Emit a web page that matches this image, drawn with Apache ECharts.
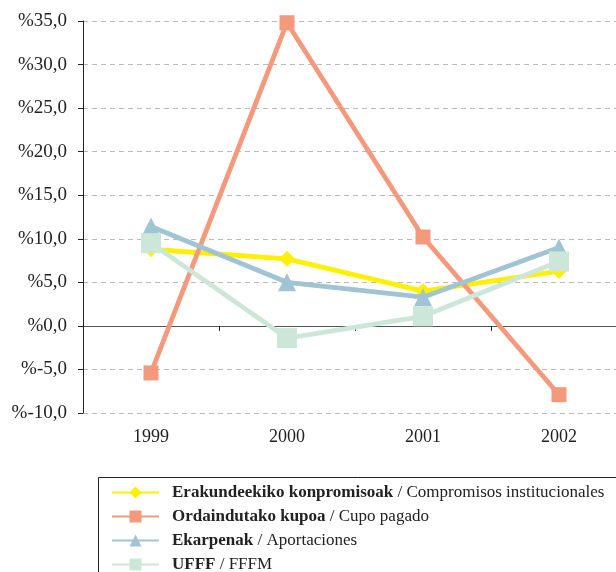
<!DOCTYPE html>
<html><head><meta charset="utf-8">
<script src="https://cdn.jsdelivr.net/npm/echarts@6/dist/echarts.min.js"></script>
<style>html,body{margin:0;padding:0;background:#fff}#c{width:616px;height:572px}</style>
</head><body><div id="c"></div>
<script>
var years = ['1999','2000','2001','2002'];
var erakunde = [8.8, 7.7, 4.0, 6.3];
var ordaindu = [-5.4, 34.8, 10.2, -7.9];
var ekarpen = [11.4, 5.0, 3.3, 9.0];
var ufff = [9.5, -1.4, 1.1, 7.4];
var names = ['Erakundeekiko konpromisoak', 'Ordaindutako kupoa', 'Ekarpenak', 'UFFF'];
var namesEs = ['Compromisos institucionales', 'Cupo pagado', 'Aportaciones', 'FFFM'];

var font = 'Liberation Serif';
var chart = echarts.init(document.getElementById('c'), null, {renderer: 'canvas'});
function mk(i, data, color, symbol, size, z) {
  return {
    name: names[i], type: 'line', data: data, xAxisIndex: 0,
    symbol: symbol, symbolSize: size, z: z, clip: false,
    lineStyle: {color: color, width: 4.8},
    itemStyle: {color: color},
    emphasis: {disabled: true}, animation: false
  };
}
var lookup = {};
names.forEach(function(n, i){ lookup[n] = namesEs[i]; });
chart.setOption({
  animation: false,
  textStyle: {fontFamily: font},
  grid: {left: 83, top: 21, height: 392, width: 544, outerBoundsMode: 'none', containLabel: false},
  legend: {
    orient: 'vertical', left: 111, top: 484, height: 200, padding: 0,
    itemWidth: 47, itemHeight: 15, itemGap: 7,
    data: names,
    formatter: function(n){ return '{b|' + n + '} / ' + lookup[n]; },
    textStyle: {fontFamily: font, fontSize: 17, color: '#222', padding: [0, 0, 0, 8],
      rich: {b: {fontFamily: font, fontSize: 17, fontWeight: 'bold', color: '#222'}}}
  },
  graphic: [{type: 'rect', shape: {x: 98.5, y: 477.5, width: 600, height: 200},
    style: {fill: 'none', stroke: '#222', lineWidth: 1}, silent: true}],
  xAxis: [
    {type: 'category', data: years, position: 'bottom', boundaryGap: true,
     axisLine: {show: false, onZero: false}, axisTick: {show: false}, splitLine: {show: false},
     axisLabel: {fontFamily: font, fontSize: 18, color: '#222', margin: 15}},
    {type: 'category', data: years, position: 'top', boundaryGap: true,
     axisLine: {show: true, onZero: true, lineStyle: {color: '#555', width: 1.2}},
     axisTick: {show: true, inside: true, length: 5, lineStyle: {color: '#222'}},
     axisLabel: {show: false}, splitLine: {show: false}}
  ],
  yAxis: {
    type: 'value', min: -10, max: 35, interval: 5,
    axisLine: {show: true, onZero: false, lineStyle: {color: '#222', width: 1}},
    axisTick: {show: true, length: 5, lineStyle: {color: '#222'}},
    splitLine: {show: true, lineStyle: {color: '#bbb', type: [5, 4], width: 1}},
    axisLabel: {fontFamily: font, fontSize: 19, color: '#222', margin: 16,
      formatter: function(v){ return '%' + v.toFixed(1).replace('.', ','); }}
  },
  series: [
    mk(0, erakunde, '#FFF000', 'diamond', 16, 2),
    mk(1, ordaindu, '#F4997C', 'rect', 15, 3),
    mk(2, ekarpen, '#A0C4D3', 'triangle', 18, 4),
    mk(3, ufff, '#CCE7D7', 'rect', 20, 5)
  ]
});
</script></body></html>
